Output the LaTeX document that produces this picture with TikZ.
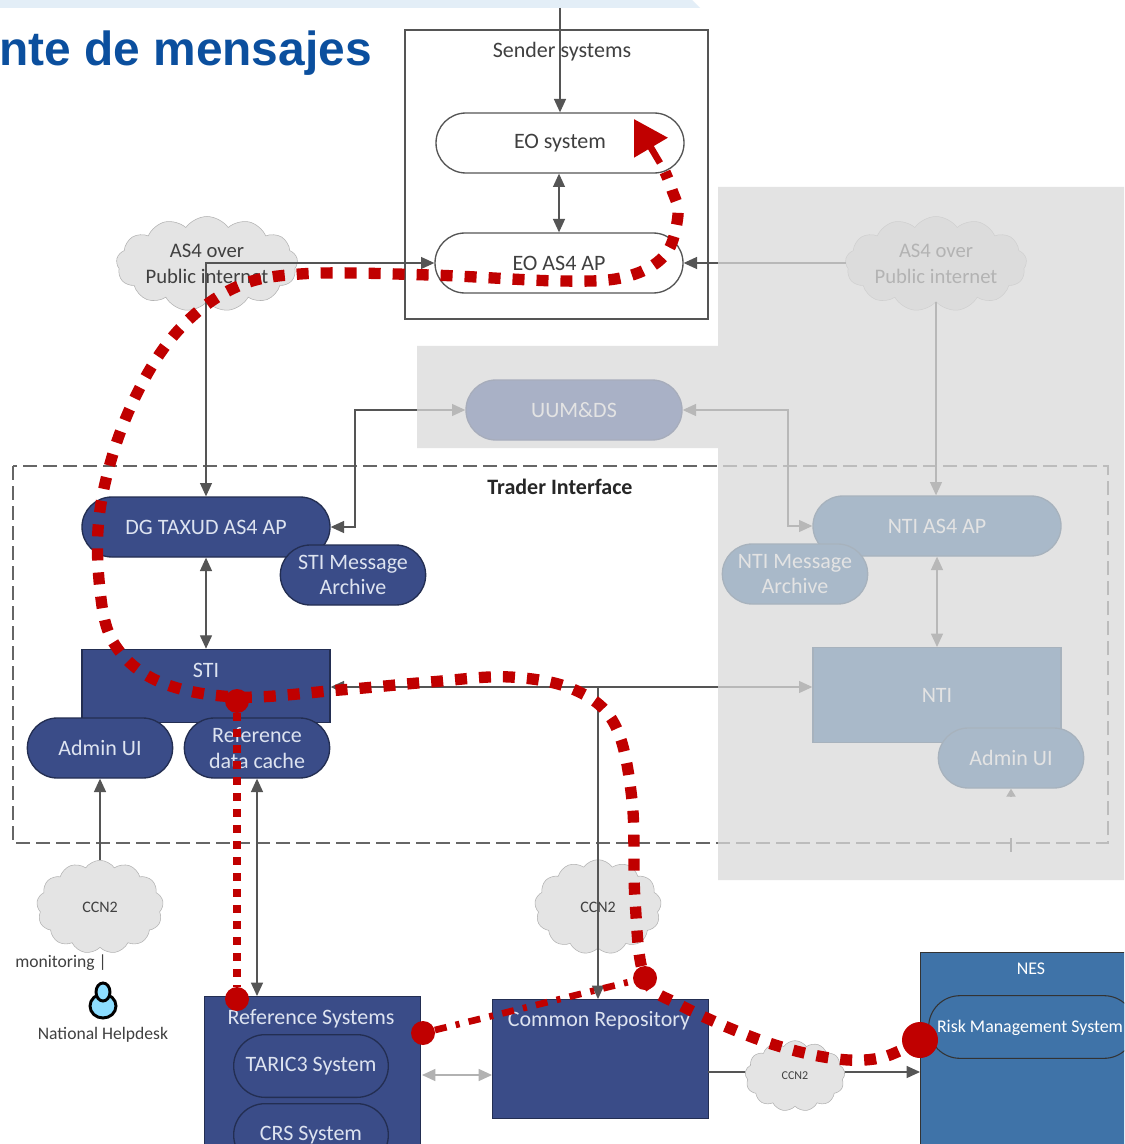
\documentclass[tikz,border=0pt]{standalone}
\usepackage{fontspec}
\setmainfont{Carlito}
\newfontfamily\titlefont{Liberation Sans}
\usetikzlibrary{arrows.meta,shapes}
\definecolor{titleblue}{HTML}{0B4F9E}
\definecolor{bandblue}{HTML}{E3EEF7}
\definecolor{taxud}{HTML}{3A4C88}
\definecolor{taxudtext}{HTML}{DDE3F0}
\definecolor{national}{HTML}{185898}
\definecolor{uumblue}{HTML}{18388C}
\definecolor{nesblue}{HTML}{3F73A8}
\definecolor{linegray}{HTML}{555555}
\definecolor{cloudgray}{HTML}{E4E4E4}
\definecolor{veilgray}{HTML}{DADADA}
\definecolor{routered}{HTML}{C00000}
\newcommand{\pillw}{186pt}
\newcommand{\pillh}{45pt}
\newcommand{\smallw}{109pt}
\tikzset{
    pill/.style = {shape = rounded rectangle, draw = #1, line width = 1pt, inner sep = 0pt,
        minimum width = \pillw, minimum height = \pillh, align = center, font = \fontsize{16.5}{19}\selectfont},
    pill/.default = linegray,
    whitepill/.style = {pill, fill = white, text = black!75},
    darkpill/.style = {pill = taxud!60!black, fill = taxud, text = taxudtext},
    fadedpill/.style = {pill = national!70!black, fill = national, text = white},
    darkbox/.style = {draw = taxud!60!black, line width = 1pt, fill = taxud, text = taxudtext, inner sep = 0pt,
        align = center, font = \fontsize{16.5}{19}\selectfont},
    ccncloud/.style = {shape = cloud, cloud puffs = 13, cloud puff arc = 110, aspect = 1.3, draw = black!30, fill = cloudgray,
        inner sep = 0pt, align = center, text = black!75, font = \fontsize{12}{14}\selectfont},
    as4cloud/.style = {ccncloud, aspect = 2.3, minimum width = 136pt, minimum height = 46pt, font = \fontsize{15.5}{20}\selectfont},
    conn/.style = {draw = linegray, line width = 0.9pt},
    oneway/.style = {conn, -{Triangle[length = 10pt, width = 9pt]}},
    twoway/.style = {conn, {Triangle[length = 10pt, width = 9pt]}-{Triangle[length = 10pt, width = 9pt]}},
    plaintext/.style = {inner sep = 0pt, text = black!75, font = \fontsize{13.2}{15}\selectfont},
    boxlabel/.style = {plaintext, text = taxudtext, font = \fontsize{16.5}{18}\selectfont},
    routedot/.style = {shape = circle, fill = routered, inner sep = 0pt, minimum size = 18pt},
}
\begin{document}
\begin{tikzpicture}[x = 0.75pt, y = -0.75pt]
    \path[use as bounding box, clip] (0,0) rectangle (1124,1144);
    \fill[white] (0,0) rectangle (1124,1144);
    \fill[bandblue] (0,0) -- (692,0) -- (700,8) -- (0,8) -- cycle;
    \node[anchor = base west, inner sep = 0pt, text = titleblue, font = \titlefont\bfseries\fontsize{35.9}{40}\selectfont] (title) at (-1,66) {nte de mensajes};

    %boxes
    \draw[line width = 1pt, draw = linegray] (405,30) rectangle (708,319);
    \node[plaintext, font = \fontsize{16.5}{18}\selectfont] (sender) at (562,52) {Sender systems};
    \draw[dash pattern = on 10.5pt off 4.5pt, line width = 0.9pt, draw = black!60] (13,466) rectangle (1108,843);
    \node[inner sep = 0pt, font = \bfseries\fontsize{16.5}{18}\selectfont, text = black!85] (trader) at (560,487) {Trader Interface};

    %clouds
    \node[as4cloud] (as4left) at (207,264) {AS4 over\\Public internet};
    \node[as4cloud] (as4right) at (936,264) {AS4 over\\Public internet};
    \node[ccncloud, minimum width = 95pt, minimum height = 70pt] (ccnleft) at (100,907) {CCN2};
    \node[ccncloud, minimum width = 95pt, minimum height = 71pt] (ccnmid) at (598,907) {CCN2};

    %systems
    \node[whitepill] (eosystem) at (560,143) {EO system};
    \node[whitepill] (eoap) at (559,263) {EO AS4 AP};
    \node[fadedpill, draw = uumblue!70!black, fill = uumblue, minimum width = 162pt] (uum) at (574,410) {UUM\&DS};
    \node[darkbox, minimum width = 186pt, minimum height = 55pt, text depth = 24pt] (sti) at (206,686) {STI};
    \node[darkpill] (dgtaxud) at (206,527) {DG TAXUD AS4 AP};
    \node[darkpill, minimum width = \smallw] (stiarchive) at (353,575) {STI Message\\Archive};
    \node[darkpill, minimum width = \smallw] (adminleft) at (100,748) {Admin UI};
    \node[darkpill, minimum width = \smallw] (refcache) at (257,748) {Reference\\data cache};
    \node[fadedpill, minimum width = \pillw] (ntiap) at (937,526) {NTI AS4 AP};
    \node[fadedpill, minimum width = \smallw] (ntiarchive) at (795,574) {NTI Message\\Archive};
    \node[darkbox, draw = national!70!black, fill = national, text = white, minimum width = 186pt, minimum height = 71pt] (nti) at (937,695) {NTI};
    \node[fadedpill, minimum width = \smallw] (adminright) at (1011,758) {Admin UI};

    %backend
    \node[darkbox, minimum width = 162pt, minimum height = 150pt, anchor = north west] (refsystems) at (204,996) {};
    \node[boxlabel] (reflabel) at (311,1019) {Reference Systems};
    \node[darkpill, minimum width = 116pt, minimum height = 47pt] (taric) at (311,1066) {TARIC3 System};
    \node[darkpill, minimum width = 116pt, minimum height = 47pt] (crs) at (311,1135) {CRS System};
    \node[darkbox, minimum width = 162pt, minimum height = 89pt, anchor = north west] (common) at (492,999) {};
    \node[boxlabel] (commonlabel) at (599,1021) {Common Repository};
    \node[draw = black!80, line width = 0.8pt, fill = nesblue, inner sep = 0pt, minimum width = 160pt, minimum height = 160pt, anchor = north west] (nes) at (920,952) {};
    \node[inner sep = 0pt, text = white, font = \fontsize{13.4}{16}\selectfont] (neslabel) at (1031,969) {NES};
    \node[shape = rounded rectangle, draw = black!80, line width = 0.8pt, fill = nesblue, inner sep = 0pt, minimum width = 155pt, minimum height = 47pt] (risk) at (1032,1027) {};
    \node[inner sep = 0pt, text = white, font = \fontsize{13.4}{16}\selectfont] (risklabel) at (1030,1028) {Risk Management System};

    %connectors
    \coordinate (topin) at (560,8);
    \coordinate (junction) at (598,687);
    \coordinate (uumleft) at (355,410);
    \coordinate (uumright) at (788,410);
    \coordinate (ntiadminin) at (1011,797);
    \coordinate (ticktop) at (1011,838);
    \coordinate (tickbottom) at (1011,852);
    \coordinate (backendline) at (708,1072);
    \coordinate (refcommon) at (422,1075);
    \draw[oneway] (topin) -- (topin |- eosystem.north);
    \draw[twoway] (eosystem.south -| eoap.north) -- (eoap.north);
    \draw[twoway] (dgtaxud.north) -- (dgtaxud.north |- eoap.west) -- (eoap.west);
    \draw[oneway] (as4right.west |- eoap.east) -- (eoap.east);
    \draw[oneway] (as4right.south) -- (as4right.south |- ntiap.north);
    \draw[twoway] (uum.west) -- (uumleft) -- (uumleft |- dgtaxud.east) -- (dgtaxud.east);
    \draw[twoway] (uum.east) -- (uumright) -- (uumright |- ntiap.west) -- (ntiap.west);
    \draw[twoway] (dgtaxud.south) -- (sti.north);
    \draw[twoway] (ntiap.south) -- (nti.north);
    \draw[oneway] (junction) -- (junction -| sti.east);
    \draw[oneway] (junction) -- (junction -| nti.west);
    \draw[oneway] (junction) -- (junction |- common.north);
    \draw[oneway] (ccnleft.north) -- (ccnleft.north |- adminleft.south);
    \draw[twoway] (refcache.south) -- (refcache.south |- refsystems.north);
    \draw[twoway, draw = black!30] (refcommon) -- (refcommon -| common.west);
    \draw[oneway] (backendline) -- (backendline -| nes.west);
    \draw[conn, -{Triangle[length = 6pt, width = 7pt]}] (ntiadminin) -- (adminright.south);
    \draw[conn] (ticktop) -- (tickbottom);
    \node[ccncloud, minimum width = 75pt, minimum height = 53pt, aspect = 1.6, font = \fontsize{9}{12}\selectfont] (ccnsmall) at (795,1076) {CCN2};

    %helpdesk
    \node[plaintext] (monitoring) at (61,963) {monitoring |};
    \node[plaintext] (helpdesk) at (103,1035) {National Helpdesk};
    \begin{scope}[shift = {(103,1000)}]
        \draw[line width = 2.2pt, fill = blue!30!cyan!45!white] (0,6) ellipse (13 and 12);
        \draw[line width = 2.2pt, fill = blue!30!cyan!45!white] (0,-8) ellipse (7 and 9);
    \end{scope}

    %faded part
    \fill[veilgray, fill opacity = 0.75] (718,187) -- (1124,187) -- (1124,880) -- (718,880) -- (718,448) -- (417,448) -- (417,346) -- (718,346) -- cycle;

    %route
    \node[routedot] (dotsti) at (237,701) {};
    \node[routedot] (dotref) at (237,999) {};
    \node[routedot] (dotrefright) at (423,1033) {};
    \node[routedot] (dotcommon) at (645,978) {};
    \node[routedot, minimum size = 27pt] (dotnes) at (920,1040) {};
    \coordinate (routetail) at (660,163);
    \coordinate (routetip) at (634,119);
    \draw[draw = routered, line width = 6pt, dash pattern = on 6pt off 6pt] (dotsti) -- (dotref);
    \draw[draw = routered, line width = 5pt, dash pattern = on 9pt off 7pt on 3pt off 7pt] (dotrefright) -- (dotcommon);
    \draw[draw = routered, line width = 8.5pt, dash pattern = on 9pt off 9pt]
        plot[smooth, tension = 0.6] coordinates {(dotnes) (880,1058) (830,1058) (760,1040) (680,1005) (645,978) (635,900) (632,800) (615,725) (575,690) (510,677) (430,682) (340,690) (237,697) (160,682) (115,645) (100,590) (100,510) (125,420) (170,340) (230,290) (300,274) (430,275) (560,281) (625,277) (665,255) (678,215) (672,190) (665,172)};
    \draw[draw = routered, line width = 5pt, -{Triangle[length = 25pt, width = 28pt]}] (routetail) -- (routetip);
\end{tikzpicture}
\end{document}
